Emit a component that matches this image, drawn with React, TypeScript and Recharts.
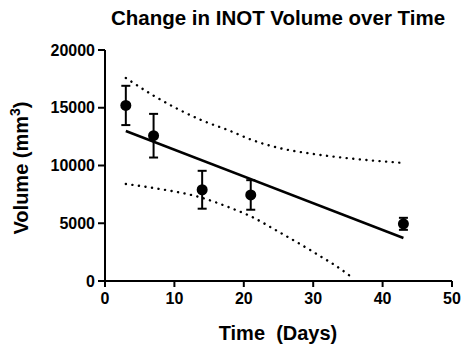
import { ComposedChart, XAxis, YAxis, Line, Scatter, ErrorBar } from "recharts"

const days = [3, 7, 14, 21, 43]
const meanVolume = [15200, 12580, 7900, 7450, 4950]
const semVolume = [1700, 1890, 1640, 1280, 520]

const fitDays = [3, 43]
const fitVolume = [12990, 3720]

const upperDays = [3, 7, 14, 18, 21, 25, 30, 35, 43]
const upperBand = [17580, 16050, 13900, 13000, 12250, 11530, 11000, 10630, 10220]
const lowerDays = [3, 7, 14, 18, 21, 25, 30, 35, 35.6]
const lowerBand = [8400, 8050, 7200, 6350, 5600, 4270, 2520, 580, 300]

const xTicks = [0, 10, 20, 30, 40, 50]
const yTicks = [0, 5000, 10000, 15000, 20000]

const font = "'Liberation Sans', Arial, sans-serif"

const points = days.map((d, i) => ({ x: d, y: meanVolume[i], err: semVolume[i] }))
const fit = fitDays.map((d, i) => ({ x: d, y: fitVolume[i] }))
const upper = upperDays.map((d, i) => ({ x: d, y: upperBand[i] }))
const lower = lowerDays.map((d, i) => ({ x: d, y: lowerBand[i] }))

const tickStyle = { fill: "#000", fontSize: 16, fontWeight: 700, fontFamily: font }

export default function App() {
  return (
    <div style={{ position: "absolute", left: 0, top: 0, width: 461, height: 347, background: "#fff", fontFamily: font }}>
      <div
        style={{
          position: "absolute",
          left: 0,
          width: 556,
          top: 6,
          textAlign: "center",
          fontSize: 20.5,
          fontWeight: 700,
          color: "#000",
          whiteSpace: "nowrap",
        }}
      >
        Change in INOT Volume over Time
      </div>
      <ComposedChart width={461} height={347} margin={{ top: 50, right: 9, bottom: 26, left: 45 }}>
        <XAxis
          type="number"
          dataKey="x"
          domain={[0, 50]}
          ticks={xTicks}
          height={40}
          axisLine={{ stroke: "#000", strokeWidth: 2 }}
          tickLine={{ stroke: "#000", strokeWidth: 2 }}
          tickSize={6}
          tickMargin={6}
          tick={tickStyle}
          label={{
            content: () => (
              <text x={278} y={340} textAnchor="middle" fontSize={20} fontWeight={700} fontFamily={font} fill="#000">
                {"Time\u00A0 (Days)"}
              </text>
            ),
          }}
        />
        <YAxis
          type="number"
          dataKey="y"
          domain={[0, 20000]}
          ticks={yTicks}
          width={60}
          axisLine={{ stroke: "#000", strokeWidth: 2 }}
          tickLine={{ stroke: "#000", strokeWidth: 2 }}
          tickSize={7}
          tickMargin={3}
          tick={tickStyle}
          label={{
            content: () => (
              <text
                x={28}
                y={168}
                transform="rotate(-90, 28, 168)"
                textAnchor="middle"
                fontSize={20}
                fontWeight={700}
                fontFamily={font}
                fill="#000"
              >
                <tspan>Volume (mm</tspan>
                <tspan dy={-8} fontSize={14}>3</tspan>
                <tspan dy={8}>)</tspan>
              </text>
            ),
          }}
        />
        <Line
          data={upper}
          dataKey="y"
          type="monotone"
          stroke="#000"
          strokeWidth={2.4}
          strokeDasharray="0.1 6.5"
          strokeLinecap="round"
          dot={false}
          isAnimationActive={false}
        />
        <Line
          data={lower}
          dataKey="y"
          type="monotone"
          stroke="#000"
          strokeWidth={2.4}
          strokeDasharray="0.1 6.5"
          strokeLinecap="round"
          dot={false}
          isAnimationActive={false}
        />
        <Line
          data={fit}
          dataKey="y"
          type="linear"
          stroke="#000"
          strokeWidth={2.5}
          dot={false}
          isAnimationActive={false}
        />
        <Scatter
          data={points}
          dataKey="y"
          fill="#000"
          isAnimationActive={false}
          shape={(p: any) => <circle cx={p.cx} cy={p.cy} r={5.5} fill="#000" />}
        >
          <ErrorBar dataKey="err" direction="y" width={4.5} stroke="#000" strokeWidth={2} isAnimationActive={false} />
        </Scatter>
      </ComposedChart>
    </div>
  )
}
